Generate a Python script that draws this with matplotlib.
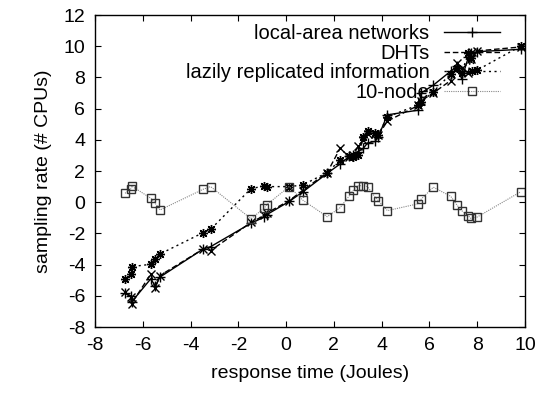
import matplotlib
matplotlib.use("Agg")
import matplotlib.pyplot as plt

plt.rcParams['font.family'] = ['Liberation Sans', 'DejaVu Sans']
plt.rcParams['axes.unicode_minus'] = False

# shared x positions (response time)
x = [-6.74, -6.51, -6.47, -5.66, -5.48, -5.28, -3.47, -3.16, -1.47, -0.91, -0.81,
     0.13, 0.69, 1.72, 2.26, 2.65, 2.81, 3.02, 3.23, 3.41, 3.73, 3.86, 4.24,
     5.53, 5.65, 6.16, 6.89, 7.15, 7.35, 7.63, 7.72, 8.0, 9.82]

lan = [-5.85, -6.0, -6.4, -4.9, -5.4, -4.8, -3.0, -2.85, -1.35, -0.95, -0.8,
       0.05, 0.65, 1.85, 2.45, 2.95, 3.05, 3.25, 3.45, 3.8, 3.9, 4.2,
       5.6, 5.9, 7.0, 7.5, 8.4, 8.7, 7.9, 9.3, 9.55, 9.65, 9.8]

dhts = [-5.75, -6.1, -6.5, -4.6, -5.5, -4.7, -3.0, -3.1, -1.3, -0.85, -0.7,
        0.1, 0.75, 1.9, 3.45, 2.9, 3.0, 3.6, 4.0, 4.4, 4.4, 4.3,
        5.2, 6.2, 6.5, 7.0, 7.8, 8.9, 8.6, 8.3, 9.2, 9.7, 9.95]

lazily = [-4.94, -4.6, -4.13, -3.98, -3.64, -3.32, -1.95, -1.74, 0.87, 1.04, 1.0,
          1.0, 1.1, 1.9, 2.7, 2.98, 2.9, 3.0, 4.2, 4.56, 4.42, 4.3,
          5.48, 6.23, 6.4, 7.08, 8.22, 8.6, 8.3, 9.54, 9.22, 8.47, 10.0]

node10 = [0.57, 0.83, 1.04, 0.25, -0.07, -0.5, 0.83, 1.0, -1.06, -0.37, -0.16,
          1.0, 0.14, -0.93, -0.35, 0.42, 0.76, 1.06, 1.06, 1.0, 0.31, 0.1, -0.54,
          -0.1, 0.19, 0.96, 0.38, -0.18, -0.54, -0.87, -1.03, -0.95, 0.67]

labels = ['local-area networks', 'DHTs', 'lazily replicated information', '10-node']

fig = plt.figure(figsize=(5.51, 3.94), dpi=100)
ax = fig.add_axes([95/551, 1-327/394, 430/551, 312/394])

ax.plot(x, lan, color='black', lw=1, marker='+', ms=7, mew=1, label=labels[0])
ax.plot(x, dhts, color='black', lw=1, ls=(0, (4, 2)), marker='x', ms=5.5, mew=1, label=labels[1])
ax.plot(x, lazily, color='black', lw=1, ls=(0, (1.5, 2.5)), marker=(8, 2, 0), ms=6.5, mew=1,
        label=labels[2])
ax.plot(x, node10, color='#888888', lw=0.8, ls=(0, (1, 1)), marker='s', ms=5.5, mew=1,
        mfc='none', mec='#333333', label=labels[3])

ax.set_xlim(-8, 10)
ax.set_ylim(-8, 12)
ax.set_xticks(range(-8, 11, 2))
ax.set_yticks(range(-8, 13, 2))
ax.tick_params(direction='in', top=True, right=True, length=4, width=0.8, labelsize=14, pad=7)
for s in ax.spines.values():
    s.set_linewidth(1)

ax.set_xlabel('response time (Joules)', fontsize=14, labelpad=8)
ax.set_ylabel('sampling rate (# CPUs)', fontsize=14, labelpad=8)

leg = ax.legend(loc='upper right', bbox_to_anchor=(405/430, 0.97), frameon=False,
                markerfirst=False, prop={'size': 14.5}, handlelength=2.8, handletextpad=0.7,
                labelspacing=0.02, borderpad=0, borderaxespad=0)

fig.savefig('out.png', dpi=100)
